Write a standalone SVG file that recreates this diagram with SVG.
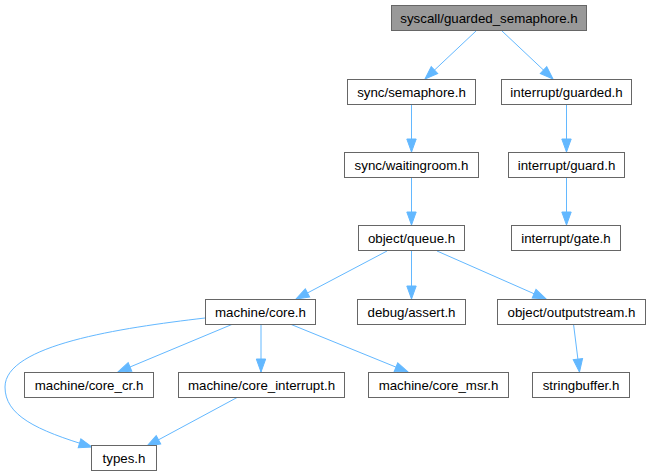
<svg xmlns="http://www.w3.org/2000/svg" width="651" height="476" viewBox="0 0 651 476">
<style>
.n rect{fill:#ffffff;stroke:#666666;stroke-width:1}
.n.root rect{fill:#999999}
.n text{font-family:"Liberation Sans",Arial,sans-serif;font-size:13.3px;fill:#000000;text-anchor:middle}
.e path{fill:none;stroke:#63b8ff;stroke-width:1;marker-end:url(#ah)}
</style>
<defs>
<marker id="ah" markerUnits="userSpaceOnUse" markerWidth="15" markerHeight="12" viewBox="0 0 15 12" refX="14" refY="6" orient="auto">
<path d="M1,1.3 L14,6 L1,10.7 Z" fill="#63b8ff" stroke="#63b8ff" stroke-width="1"/>
</marker>
</defs>
<rect width="651" height="476" fill="#ffffff"/>
<g id="edges" class="e">
<path d="M476,31 L425,79"/>
<path d="M502,31 L553,79"/>
<path d="M411.5,104 L411.5,152"/>
<path d="M566.5,104 L566.5,152"/>
<path d="M411.5,177 L411.5,225"/>
<path d="M566.5,177 L566.5,225"/>
<path d="M387,251 L296,299"/>
<path d="M411.5,251 L411.5,299"/>
<path d="M437,251 L546,299"/>
<path d="M573.5,324 L579.5,372"/>
<path d="M233,324 L118,372"/>
<path d="M261,324 L261,372"/>
<path d="M290,324 L408,372"/>
<path d="M205,318 C120,328 5,345 5,387 C5,415 35,430 92,447"/>
<path d="M238,397 L147,446"/>
</g>
<g id="node_root" class="n root"><rect x="391.5" y="5.5" width="195" height="25"/><text x="489" y="22.5">syscall/guarded_semaphore.h</text></g>
<g id="node_semaphore" class="n"><rect x="347.5" y="79.5" width="128" height="25"/><text x="411.5" y="96.5">sync/semaphore.h</text></g>
<g id="node_guarded" class="n"><rect x="501.5" y="79.5" width="130" height="25"/><text x="566.5" y="96.5">interrupt/guarded.h</text></g>
<g id="node_waitingroom" class="n"><rect x="344.5" y="152.5" width="134" height="25"/><text x="411.5" y="169.5">sync/waitingroom.h</text></g>
<g id="node_guard" class="n"><rect x="508.5" y="152.5" width="116" height="25"/><text x="566.5" y="169.5">interrupt/guard.h</text></g>
<g id="node_queue" class="n"><rect x="358.5" y="225.5" width="106" height="25"/><text x="411.5" y="242.5">object/queue.h</text></g>
<g id="node_gate" class="n"><rect x="511.5" y="225.5" width="109" height="25"/><text x="566" y="242.5">interrupt/gate.h</text></g>
<g id="node_core" class="n"><rect x="205.5" y="299.5" width="110" height="25"/><text x="260.5" y="316.5">machine/core.h</text></g>
<g id="node_assert" class="n"><rect x="357.5" y="299.5" width="108" height="25"/><text x="411.5" y="316.5">debug/assert.h</text></g>
<g id="node_outputstream" class="n"><rect x="497.5" y="299.5" width="148" height="25"/><text x="571.5" y="316.5">object/outputstream.h</text></g>
<g id="node_core_cr" class="n"><rect x="24.5" y="372.5" width="129" height="25"/><text x="89" y="389.5">machine/core_cr.h</text></g>
<g id="node_core_interrupt" class="n"><rect x="178.5" y="372.5" width="166" height="25"/><text x="261.5" y="389.5">machine/core_interrupt.h</text></g>
<g id="node_core_msr" class="n"><rect x="368.5" y="372.5" width="140" height="25"/><text x="438.5" y="389.5">machine/core_msr.h</text></g>
<g id="node_stringbuffer" class="n"><rect x="532.5" y="372.5" width="97" height="25"/><text x="581" y="389.5">stringbuffer.h</text></g>
<g id="node_types" class="n"><rect x="91.5" y="445.5" width="65" height="25"/><text x="124" y="462.5">types.h</text></g>
</svg>
